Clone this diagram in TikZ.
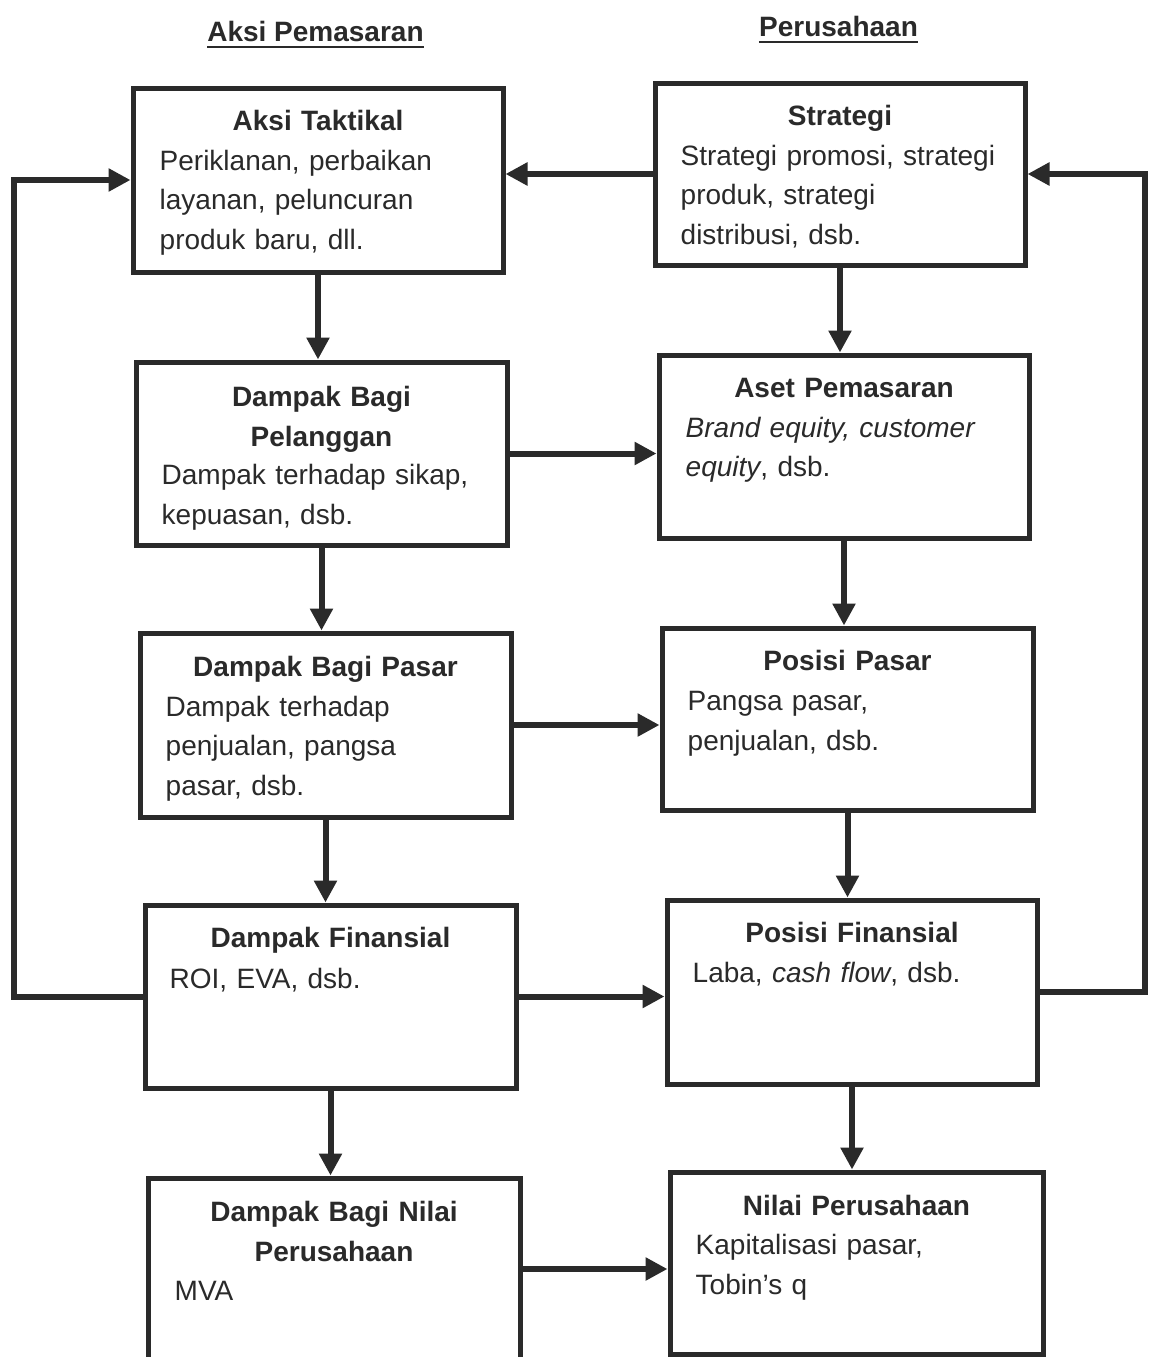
\documentclass[tikz,border=0pt]{standalone}
\usepackage{fontspec}
\setmainfont{Liberation Sans}
\usetikzlibrary{arrows.meta}
\definecolor{ink}{HTML}{2A2A2A}
\begin{document}
\begin{tikzpicture}[x=1pt,y=-1pt,
  box/.style={draw=ink, line width=5pt, rectangle, inner sep=0pt},
  ttl/.style={inner sep=0pt, text=ink, align=center, anchor=base,
    font=\fontsize{28}{39.5}\selectfont\bfseries},
  bdy/.style={inner sep=0pt, text=ink, align=left, anchor=base west,
    text width=360pt, font=\fontsize{28}{39.5}\selectfont},
  hdr/.style={inner sep=0pt, text=ink, anchor=base,
    font=\fontsize{28}{34}\selectfont\bfseries},
  arr/.style={draw=ink, line width=6pt, line join=miter,
    -{Triangle[length=22pt,width=22pt]}},
  ul/.style={draw=ink, line width=2.5pt}]

\useasboundingbox[fill=white] (0,0) rectangle (1158,1357);

% headers
\node[hdr] (h1) at (315.5,41) {Aksi Pemasaran};
\node[hdr] (h2) at (838.5,36) {Perusahaan};
\draw[ul] ([yshift=-6pt]h1.base west) -- ([yshift=-6pt]h1.base east);
\draw[ul] ([yshift=-6pt]h2.base west) -- ([yshift=-6pt]h2.base east);

% left column boxes
\node[box, minimum width=370pt, minimum height=184pt] (L1) at (318,180) {};
\node[box, minimum width=371pt, minimum height=183pt] (L2) at (321.5,453.5) {};
\node[box, minimum width=371pt, minimum height=184pt] (L3) at (325.5,725) {};
\node[box, minimum width=371pt, minimum height=183pt] (L4) at (330.5,996.5) {};
\node[box, minimum width=372pt, minimum height=182pt] (L5) at (334,1269) {};

% right column boxes
\node[box, minimum width=370pt, minimum height=182pt] (R1) at (840,174) {};
\node[box, minimum width=370pt, minimum height=183pt] (R2) at (844,446.5) {};
\node[box, minimum width=371pt, minimum height=182pt] (R3) at (847.5,719) {};
\node[box, minimum width=370pt, minimum height=184pt] (R4) at (852,992) {};
\node[box, minimum width=373pt, minimum height=182pt] (R5) at (856.5,1263) {};

% titles
\node[ttl, text width=314pt] (L1t) at ([yshift=-45pt]L1.north) {Aksi Taktikal};
\node[ttl, text width=315pt] (L2t) at ([yshift=-47pt]L2.north) {Dampak Bagi\\Pelanggan};
\node[ttl, text width=315pt] (L3t) at ([yshift=-46pt]L3.north) {Dampak Bagi Pasar};
\node[ttl, text width=315pt] (L4t) at ([yshift=-45pt]L4.north) {Dampak Finansial};
\node[ttl, text width=316pt] (L5t) at ([yshift=-46pt]L5.north) {Dampak Bagi Nilai\\Perusahaan};
\node[ttl, text width=314pt] (R1t) at ([yshift=-45pt]R1.north) {Strategi};
\node[ttl, text width=314pt] (R2t) at ([yshift=-45pt]R2.north) {Aset Pemasaran};
\node[ttl, text width=315pt] (R3t) at ([yshift=-45pt]R3.north) {Posisi Pasar};
\node[ttl, text width=314pt] (R4t) at ([yshift=-45pt]R4.north) {Posisi Finansial};
\node[ttl, text width=317pt] (R5t) at ([yshift=-46pt]R5.north) {Nilai Perusahaan};

% bodies
\node[bdy] (L1b) at ([xshift=29pt,yshift=-84.5pt]L1.north west)
  {Periklanan, perbaikan\\layanan, peluncuran\\produk baru, dll.};
\node[bdy] (L2b) at ([xshift=28pt,yshift=-125pt]L2.north west)
  {Dampak terhadap sikap,\\kepuasan, dsb.};
\node[bdy] (L3b) at ([xshift=28pt,yshift=-85.5pt]L3.north west)
  {Dampak terhadap\\penjualan, pangsa\\pasar, dsb.};
\node[bdy] (L4b) at ([xshift=27pt,yshift=-86pt]L4.north west)
  {ROI, EVA, dsb.};
\node[bdy] (L5b) at ([xshift=29pt,yshift=-125pt]L5.north west)
  {MVA};
\node[bdy] (R1b) at ([xshift=28pt,yshift=-84.5pt]R1.north west)
  {Strategi promosi, strategi\\produk, strategi\\distribusi, dsb.};
\node[bdy] (R2b) at ([xshift=29pt,yshift=-84.5pt]R2.north west)
  {\textit{Brand equity, customer}\\\textit{equity}, dsb.};
\node[bdy] (R3b) at ([xshift=28pt,yshift=-85pt]R3.north west)
  {Pangsa pasar,\\penjualan, dsb.};
\node[bdy] (R4b) at ([xshift=28pt,yshift=-84.5pt]R4.north west)
  {Laba, \textit{cash flow}, dsb.};
\node[bdy] (R5b) at ([xshift=28pt,yshift=-85pt]R5.north west)
  {Kapitalisasi pasar,\\Tobin’s q};

% vertical arrows
\draw[arr] (L1.south) -- (L1.south |- L2.north);
\draw[arr] (L2.south) -- (L2.south |- L3.north);
\draw[arr] (L3.south) -- (L3.south |- L4.north);
\draw[arr] (L4.south) -- (L4.south |- L5.north);
\draw[arr] (R1.south) -- (R1.south |- R2.north);
\draw[arr] (R2.south) -- (R2.south |- R3.north);
\draw[arr] (R3.south) -- (R3.south |- R4.north);
\draw[arr] (R4.south) -- (R4.south |- R5.north);

% horizontal arrows
\draw[arr] (R1.west) -- (R1.west -| L1.east);
\draw[arr] (L2.east) -- (L2.east -| R2.west);
\draw[arr] (L3.east) -- (L3.east -| R3.west);
\draw[arr] (L4.east) -- (L4.east -| R4.west);
\draw[arr] (L5.east) -- (L5.east -| R5.west);

% feedback loops
\coordinate (lx) at (14,0);
\coordinate (rx) at (1145,0);
\draw[arr] (L4.west) -- (L4.west -| lx) |- (L1.west);
\draw[arr] (R4.east) -- (R4.east -| rx) |- (R1.east);
\end{tikzpicture}
\end{document}
